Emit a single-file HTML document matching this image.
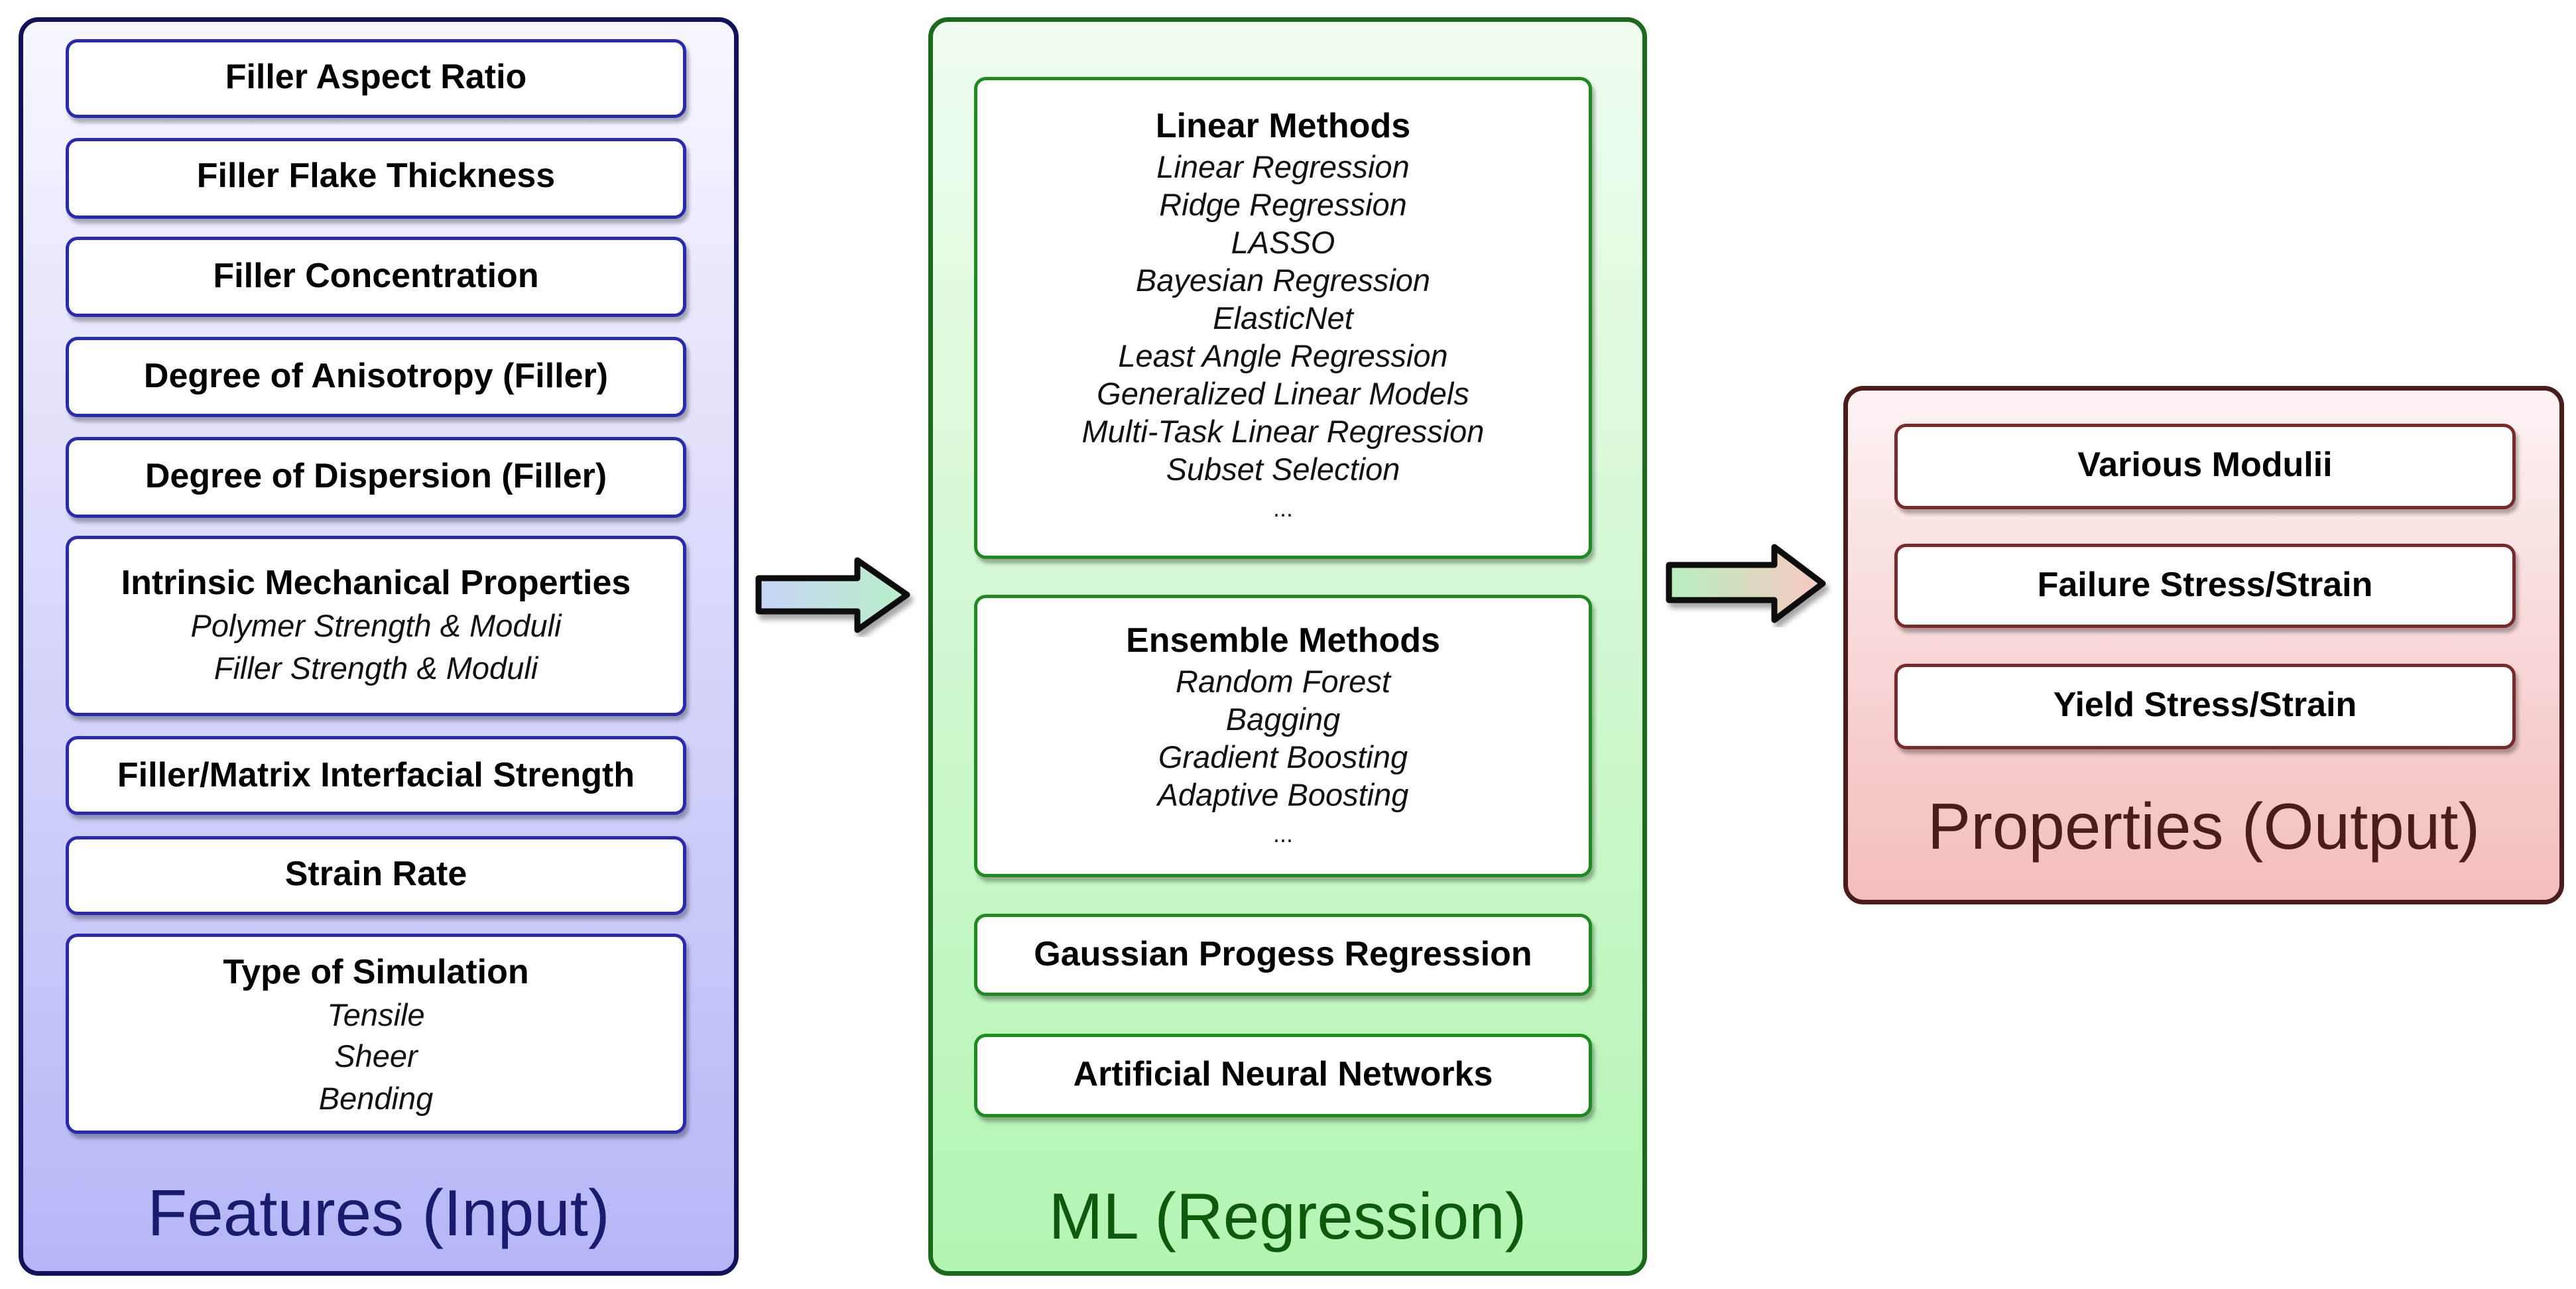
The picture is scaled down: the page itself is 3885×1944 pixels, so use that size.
<!DOCTYPE html>
<html><head><meta charset="utf-8">
<style>
body{margin:0;width:3885px;height:1944px;background:#fff;position:relative;overflow:hidden;font-family:"Liberation Sans",Arial,sans-serif;}
.p{position:absolute;border-radius:30px;box-sizing:border-box;border:7px solid;}
.b{position:absolute;background:#fff;border-radius:18px;box-sizing:border-box;border:5px solid;box-shadow:4px 7px 6px rgba(0,0,0,0.3);}
.t{position:absolute;text-align:center;white-space:nowrap;color:#000;height:60px;line-height:60px;}
.bo{font-weight:bold;font-size:52px;}
.it{font-style:italic;font-size:47px;color:#111;}
.ti{font-size:98px;height:120px;line-height:120px;}
.L{left:99px;width:936px;}
.M{left:1469px;width:932px;}
.R{left:2857px;width:937px;}
.lb{border-color:#2a2ab0}.mb{border-color:#1f8a1f}.rb{border-color:#7a2a2a}
</style></head><body>
<div class="p" style="left:28px;top:26px;width:1086px;height:1898px;border-color:#12125c;background:linear-gradient(#f7f7ff,#b6b6f7);"></div>
<div class="p" style="left:1400px;top:26px;width:1084px;height:1898px;border-color:#1b6a1b;background:linear-gradient(#effcef,#b3f5b3);"></div>
<div class="p" style="left:2780px;top:582px;width:1087px;height:782px;border-color:#4a1c1c;background:linear-gradient(#fdf3f3,#f4bdbd);"></div>

<div class="b L lb" style="top:59px;height:119px"></div>
<div class="b L lb" style="top:208px;height:122px"></div>
<div class="b L lb" style="top:357px;height:121px"></div>
<div class="b L lb" style="top:508px;height:121px"></div>
<div class="b L lb" style="top:659px;height:122px"></div>
<div class="b L lb" style="top:808px;height:272px"></div>
<div class="b L lb" style="top:1110px;height:119px"></div>
<div class="b L lb" style="top:1261px;height:119px"></div>
<div class="b L lb" style="top:1408px;height:302px"></div>

<div class="t bo L" style="top:86px">Filler Aspect Ratio</div>
<div class="t bo L" style="top:235px">Filler Flake Thickness</div>
<div class="t bo L" style="top:386px">Filler Concentration</div>
<div class="t bo L" style="top:537px">Degree of Anisotropy (Filler)</div>
<div class="t bo L" style="top:688px">Degree of Dispersion (Filler)</div>
<div class="t bo L" style="top:849px">Intrinsic Mechanical Properties</div>
<div class="t it L" style="top:914px">Polymer Strength &amp; Moduli</div>
<div class="t it L" style="top:978px">Filler Strength &amp; Moduli</div>
<div class="t bo L" style="top:1139px">Filler/Matrix Interfacial Strength</div>
<div class="t bo L" style="top:1288px">Strain Rate</div>
<div class="t bo L" style="top:1436px">Type of Simulation</div>
<div class="t it L" style="top:1501px">Tensile</div>
<div class="t it L" style="top:1563px">Sheer</div>
<div class="t it L" style="top:1627px">Bending</div>
<div class="t ti" style="left:28px;width:1086px;top:1769px;color:#1a1a6e">Features (Input)</div>

<div class="b M mb" style="top:116px;height:727px"></div>
<div class="b M mb" style="top:897px;height:426px"></div>
<div class="b M mb" style="top:1378px;height:124px"></div>
<div class="b M mb" style="top:1559px;height:126px"></div>
<div class="t bo M" style="top:160px">Linear Methods</div>
<div class="t it M" style="top:222px">Linear Regression</div>
<div class="t it M" style="top:279px">Ridge Regression</div>
<div class="t it M" style="top:336px">LASSO</div>
<div class="t it M" style="top:393px">Bayesian Regression</div>
<div class="t it M" style="top:450px">ElasticNet</div>
<div class="t it M" style="top:507px">Least Angle Regression</div>
<div class="t it M" style="top:564px">Generalized Linear Models</div>
<div class="t it M" style="top:621px">Multi-Task Linear Regression</div>
<div class="t it M" style="top:678px">Subset Selection</div>
<div class="t it M" style="top:737px;font-style:normal;font-size:36px">...</div>
<div class="t bo M" style="top:936px">Ensemble Methods</div>
<div class="t it M" style="top:998px">Random Forest</div>
<div class="t it M" style="top:1055px">Bagging</div>
<div class="t it M" style="top:1112px">Gradient Boosting</div>
<div class="t it M" style="top:1169px">Adaptive Boosting</div>
<div class="t it M" style="top:1228px;font-style:normal;font-size:36px">...</div>
<div class="t bo M" style="top:1409px">Gaussian Progess Regression</div>
<div class="t bo M" style="top:1590px">Artificial Neural Networks</div>
<div class="t ti" style="left:1400px;width:1084px;top:1774px;color:#0d5a0d">ML (Regression)</div>

<div class="b R rb" style="top:639px;height:129px"></div>
<div class="b R rb" style="top:820px;height:127px"></div>
<div class="b R rb" style="top:1001px;height:129px"></div>
<div class="t bo R" style="top:671px">Various Modulii</div>
<div class="t bo R" style="top:852px">Failure Stress/Strain</div>
<div class="t bo R" style="top:1033px">Yield Stress/Strain</div>
<div class="t ti" style="left:2780px;width:1087px;top:1186px;color:#4a1c1c">Properties (Output)</div>

<svg width="3885" height="1944" style="position:absolute;left:0;top:0">
<defs>
<linearGradient id="g1" x1="0" x2="1"><stop offset="0" stop-color="#c8d4f8"/><stop offset="1" stop-color="#b8f0c8"/></linearGradient>
<linearGradient id="g2" x1="0" x2="1"><stop offset="0" stop-color="#b8f0c0"/><stop offset="1" stop-color="#f8c8c0"/></linearGradient>
<filter id="sh"><feDropShadow dx="5" dy="8" stdDeviation="4" flood-opacity="0.35"/></filter>
</defs>
<polygon filter="url(#sh)" points="1144,872 1293,872 1293,845 1368,897 1293,950 1293,922 1144,922" fill="url(#g1)" stroke="#111" stroke-width="9" stroke-linejoin="round"/>
<polygon filter="url(#sh)" points="2517,852 2676,852 2676,825 2749,880 2676,935 2676,905 2517,905" fill="url(#g2)" stroke="#111" stroke-width="9" stroke-linejoin="round"/>
</svg>
</body></html>
